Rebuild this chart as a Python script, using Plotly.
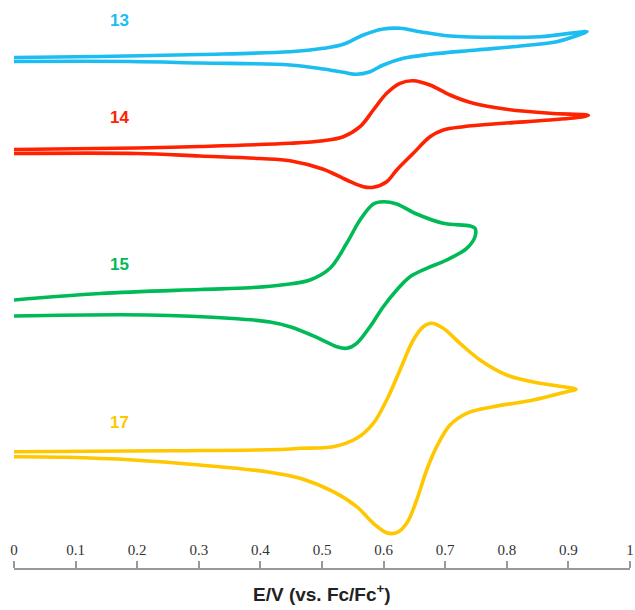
import plotly.graph_objects as go

# Cyclic voltammograms: potential E (V vs Fc/Fc+) and current (a.u., stacked offsets)
e_13 = [0, 0.1396, 0.3019, 0.4481, 0.5021, 0.5346, 0.5670, 0.5995, 0.6266, 0.6591, 0.7024, 0.7727, 0.8539, 0.9242, 0.9302,
        0.9242, 0.8810, 0.8268, 0.7511, 0.6753, 0.6320, 0.5995, 0.5779, 0.5563, 0.5346, 0.5021, 0.4481, 0.3019, 0.1883, 0]
i_13 = [51.15, 51.25, 51.45, 51.73, 52.07, 52.47, 53.4, 54.0, 54.07, 53.73, 53.33, 53.17, 53.23, 53.73, 53.73,
        53.57, 52.73, 52.33, 51.9, 51.47, 51.07, 50.4, 49.73, 49.47, 49.67, 50.0, 50.4, 50.6, 50.75, 50.75]

e_14 = [0, 0.1997, 0.3019, 0.4481, 0.5021, 0.5346, 0.5617, 0.5833, 0.6050, 0.6266, 0.6482, 0.6753, 0.7078, 0.7456, 0.7998, 0.8701, 0.9323,
        0.9242, 0.8701, 0.7943, 0.7294, 0.6969, 0.6753, 0.6482, 0.6213, 0.6050, 0.5833, 0.5670, 0.5401, 0.5021, 0.4481, 0.3994, 0.3019, 0.1997, 0]
i_14 = [41.95, 42.1, 42.25, 42.57, 42.83, 43.23, 44.23, 45.9, 47.57, 48.57, 48.83, 48.4, 47.4, 46.57, 45.97, 45.57, 45.37,
        45.23, 44.9, 44.57, 44.23, 43.9, 43.23, 41.57, 39.9, 38.73, 38.17, 38.23, 38.9, 39.97, 40.83, 41.05, 41.3, 41.55, 41.55]

e_15 = [0, 0.1396, 0.3019, 0.3831, 0.4372, 0.4805, 0.5130, 0.5401, 0.5617, 0.5833, 0.5995, 0.6213, 0.6537, 0.6969, 0.7403, 0.7484,
        0.7484, 0.7349, 0.7024, 0.6700, 0.6429, 0.6213, 0.5995, 0.5779, 0.5563, 0.5401, 0.5239, 0.4914, 0.4481, 0.4156, 0.3555, 0.2159, 0]
i_15 = [26.9, 27.55, 27.95, 28.13, 28.43, 28.9, 30.07, 32.57, 34.9, 36.5, 36.73, 36.5, 35.5, 34.57, 34.3, 34.07,
        33.23, 32.07, 30.9, 30.07, 29.23, 27.9, 26.23, 24.23, 22.57, 22.07, 22.23, 23.17, 24.23, 24.7, 25.05, 25.4, 25.3]

e_17 = [0, 0.2479, 0.4427, 0.4643, 0.5183, 0.5563, 0.5833, 0.6050, 0.6266, 0.6482, 0.6644, 0.6781, 0.6969, 0.7240, 0.7565, 0.7998, 0.8539, 0.9080, 0.9123,
        0.8972, 0.8430, 0.7781, 0.7349, 0.7078, 0.6862, 0.6700, 0.6537, 0.6375, 0.6213, 0.6050, 0.5833, 0.5563, 0.5183, 0.4643, 0.4102, 0.3019, 0.1937, 0.0856, 0]
i_17 = [11.73, 11.83, 11.97, 12.07, 12.23, 13.07, 14.57, 16.9, 19.9, 22.9, 24.23, 24.57, 24.07, 22.57, 20.9, 19.4, 18.57, 18.07, 17.97,
        17.73, 16.9, 16.23, 15.57, 14.4, 12.23, 9.9, 6.9, 4.57, 3.63, 3.63, 4.57, 6.23, 7.73, 9.07, 9.73, 10.4, 10.9, 11.17, 11.23]

names = ["13", "14", "15", "17"]
colors = ["#1CBDF0", "#FF2200", "#00BA57", "#FFC700"]
label_e = [0.172, 0.172, 0.172, 0.172]
label_i = [54.9, 45.2, 30.5, 14.7]
x_ticks = [0, 0.1, 0.2, 0.3, 0.4, 0.5, 0.6, 0.7, 0.8, 0.9, 1]
x_tick_text = ["0", "0.1", "0.2", "0.3", "0.4", "0.5", "0.6", "0.7", "0.8", "0.9", "1"]

series = [(e_13, i_13), (e_14, i_14), (e_15, i_15), (e_17, i_17)]

W, H = 635, 610

fig = go.Figure()
for (e, i), n, c in zip(series, names, colors):
    fig.add_trace(go.Scatter(x=e, y=i, mode="lines", name=n,
                             line=dict(color=c, width=3.6, shape="spline", smoothing=1.0),
                             showlegend=False, hoverinfo="skip"))

for n, c, xe, yi in zip(names, colors, label_e, label_i):
    fig.add_annotation(x=xe, y=yi, text="<b>" + n + "</b>", showarrow=False,
                       font=dict(family="Liberation Sans, Arial, sans-serif", size=17, color=c))

fig.add_annotation(xref="paper", yref="paper", x=0.5, y=1 - 593 / H, yanchor="middle",
                   text="<b>E/V (vs. Fc/Fc<sup>+</sup>)</b>", showarrow=False,
                   font=dict(family="Liberation Sans, Arial, sans-serif", size=19, color="#222222"))

fig.update_layout(
    width=W, height=H,
    margin=dict(l=14, r=5, t=0, b=0),
    paper_bgcolor="white", plot_bgcolor="white",
    xaxis=dict(range=[0, 1], anchor="free", position=1 - 569 / H, side="top",
               tickvals=x_ticks, ticktext=x_tick_text, ticks="outside", ticklen=7,
               tickwidth=1.5, tickcolor="#999999", showline=True, linecolor="#999999",
               linewidth=2, showgrid=False, zeroline=False, ticklabeloverflow="allow",
               tickfont=dict(family="Liberation Serif, Times New Roman, serif", size=15, color="#333333")),
    yaxis=dict(range=[-4.1, 56.9], visible=False, showgrid=False, zeroline=False),
)

fig.write_html("out.html", config={"displayModeBar": False},
               post_script="document.body.style.margin='0';document.body.style.overflow='hidden';")
